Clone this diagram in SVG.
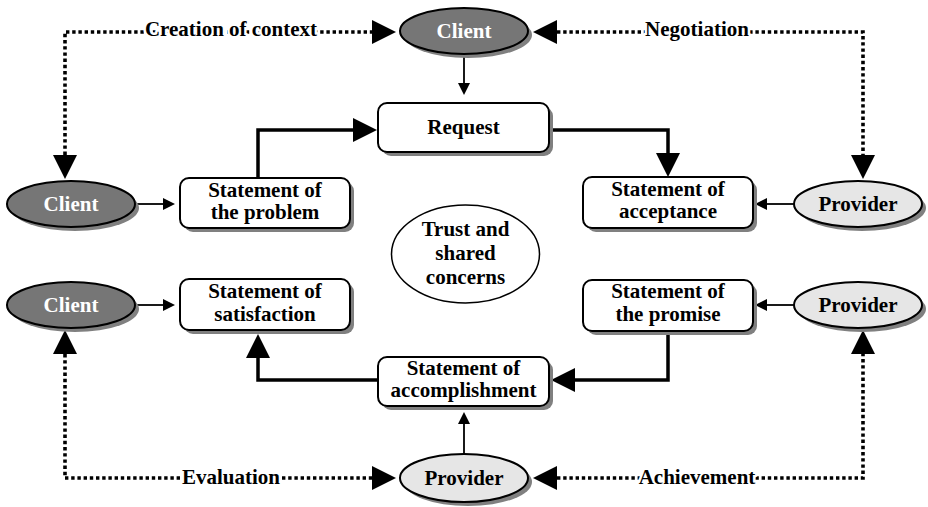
<svg xmlns="http://www.w3.org/2000/svg" width="928" height="507" viewBox="0 0 928 507">
  <style>
    text { font-family: 'Liberation Serif', 'Times New Roman', serif; font-weight: 700; font-size: 21px; text-anchor: middle; fill: #000; }
    .box { fill: #fff; stroke: #000; stroke-width: 2; }
    .shadow { fill: #808080; stroke: none; }
    .client { fill: #767676; stroke: #000; stroke-width: 2; }
    .client-text { fill: #fff; }
    .provider { fill: #e6e6e6; stroke: #000; stroke-width: 2; }
    .trust { fill: #fff; stroke: #000; stroke-width: 1.5; }
    .thick { fill: none; stroke: #000; stroke-width: 3.5; }
    .thin { fill: none; stroke: #000; stroke-width: 1.8; }
    .dotted { fill: none; stroke: #000; stroke-width: 3.6; stroke-dasharray: 3.4 2.8; }
    .label { stroke: #fff; stroke-width: 5; paint-order: stroke; stroke-linejoin: round; }
  </style>
  <defs>
    <marker id="big" markerUnits="userSpaceOnUse" viewBox="-1 -13 27 26" markerWidth="27" markerHeight="26" refX="0" refY="0" orient="auto-start-reverse" overflow="visible">
      <path d="M0,-12 L24,0 L0,12 Z" fill="#000"/>
    </marker>
    <marker id="small" markerUnits="userSpaceOnUse" viewBox="-1 -7 14 14" markerWidth="14" markerHeight="14" refX="0" refY="0" orient="auto" overflow="visible">
      <path d="M0,-6 L12,0 L0,6 Z" fill="#000"/>
    </marker>
  </defs>

  <rect width="928" height="507" fill="#fff"/>

  <!-- connectors -->
  <g id="connectors">
    <!-- dotted loops with labels -->
    <path class="dotted" d="M65,155 V32 H372" marker-start="url(#big)" marker-end="url(#big)"/>
    <path class="dotted" d="M557,32 H863 V155" marker-start="url(#big)" marker-end="url(#big)"/>
    <path class="dotted" d="M65,354 V478 H372" marker-start="url(#big)" marker-end="url(#big)"/>
    <path class="dotted" d="M557,478 H863 V354" marker-start="url(#big)" marker-end="url(#big)"/>
    <text class="label" x="231" y="36">Creation of context</text>
    <text class="label" x="697" y="36">Negotiation</text>
    <text class="label" x="231" y="484">Evaluation</text>
    <text class="label" x="697" y="484">Achievement</text>

    <!-- thick process flow -->
    <path class="thick" d="M258,178 V130 H353" marker-end="url(#big)"/>
    <path class="thick" d="M549,130 H668 V153" marker-end="url(#big)"/>
    <path class="thick" d="M668,331 V380 H575" marker-end="url(#big)"/>
    <path class="thick" d="M378,380 H258 V358" marker-end="url(#big)"/>

    <!-- thin actor arrows -->
    <path class="thin" d="M464,54 V83" marker-end="url(#small)"/>
    <path class="thin" d="M135,204 H163" marker-end="url(#small)"/>
    <path class="thin" d="M135,305 H163" marker-end="url(#small)"/>
    <path class="thin" d="M794,204 H767" marker-end="url(#small)"/>
    <path class="thin" d="M794,305 H767" marker-end="url(#small)"/>
    <path class="thin" d="M464,454 V424" marker-end="url(#small)"/>
  </g>

  <!-- actors -->
  <g id="client-top">
    <ellipse class="shadow" cx="468" cy="35" rx="64" ry="23"/>
    <ellipse class="client" cx="464" cy="31" rx="64" ry="23"/>
    <text class="client-text" x="464" y="38">Client</text>
  </g>
  <g id="client-left">
    <ellipse class="shadow" cx="75" cy="208" rx="64" ry="23"/>
    <ellipse class="client" cx="71" cy="204" rx="64" ry="23"/>
    <text class="client-text" x="71" y="211">Client</text>
  </g>
  <g id="client-bottom-left">
    <ellipse class="shadow" cx="75" cy="309" rx="64" ry="23"/>
    <ellipse class="client" cx="71" cy="305" rx="64" ry="23"/>
    <text class="client-text" x="71" y="312">Client</text>
  </g>
  <g id="provider-right">
    <ellipse class="shadow" cx="862" cy="208" rx="64" ry="23"/>
    <ellipse class="provider" cx="858" cy="204" rx="64" ry="23"/>
    <text x="858" y="211">Provider</text>
  </g>
  <g id="provider-bottom-right">
    <ellipse class="shadow" cx="862" cy="309" rx="64" ry="23"/>
    <ellipse class="provider" cx="858" cy="305" rx="64" ry="23"/>
    <text x="858" y="312">Provider</text>
  </g>
  <g id="provider-bottom">
    <ellipse class="shadow" cx="468" cy="482" rx="64" ry="24"/>
    <ellipse class="provider" cx="464" cy="478" rx="64" ry="24"/>
    <text x="464" y="485">Provider</text>
  </g>

  <!-- statements -->
  <g id="request">
    <rect class="shadow" x="382" y="107" width="171" height="49" rx="9"/>
    <rect class="box" x="378" y="103" width="171" height="49" rx="9"/>
    <text x="463.5" y="134">Request</text>
  </g>
  <g id="problem">
    <rect class="shadow" x="184" y="182" width="170" height="50" rx="9"/>
    <rect class="box" x="180" y="178" width="170" height="50" rx="9"/>
    <text x="265" y="197">Statement of</text>
    <text x="265" y="219">the problem</text>
  </g>
  <g id="acceptance">
    <rect class="shadow" x="587" y="181" width="170" height="51" rx="9"/>
    <rect class="box" x="583" y="177" width="170" height="51" rx="9"/>
    <text x="668" y="196">Statement of</text>
    <text x="668" y="218">acceptance</text>
  </g>
  <g id="satisfaction">
    <rect class="shadow" x="184" y="283" width="170" height="51" rx="9"/>
    <rect class="box" x="180" y="279" width="170" height="51" rx="9"/>
    <text x="265" y="298">Statement of</text>
    <text x="265" y="321">satisfaction</text>
  </g>
  <g id="promise">
    <rect class="shadow" x="587" y="284" width="170" height="51" rx="9"/>
    <rect class="box" x="583" y="280" width="170" height="51" rx="9"/>
    <text x="668" y="298">Statement of</text>
    <text x="668" y="321">the promise</text>
  </g>
  <g id="accomplishment">
    <rect class="shadow" x="382" y="361" width="171" height="49" rx="9"/>
    <rect class="box" x="378" y="357" width="171" height="49" rx="9"/>
    <text x="463.5" y="375">Statement of</text>
    <text x="463.5" y="397">accomplishment</text>
  </g>

  <!-- centre -->
  <g id="trust">
    <ellipse class="trust" cx="465.5" cy="254" rx="74" ry="49"/>
    <text x="465.5" y="236">Trust and</text>
    <text x="465.5" y="260">shared</text>
    <text x="465.5" y="284">concerns</text>
  </g>
</svg>
